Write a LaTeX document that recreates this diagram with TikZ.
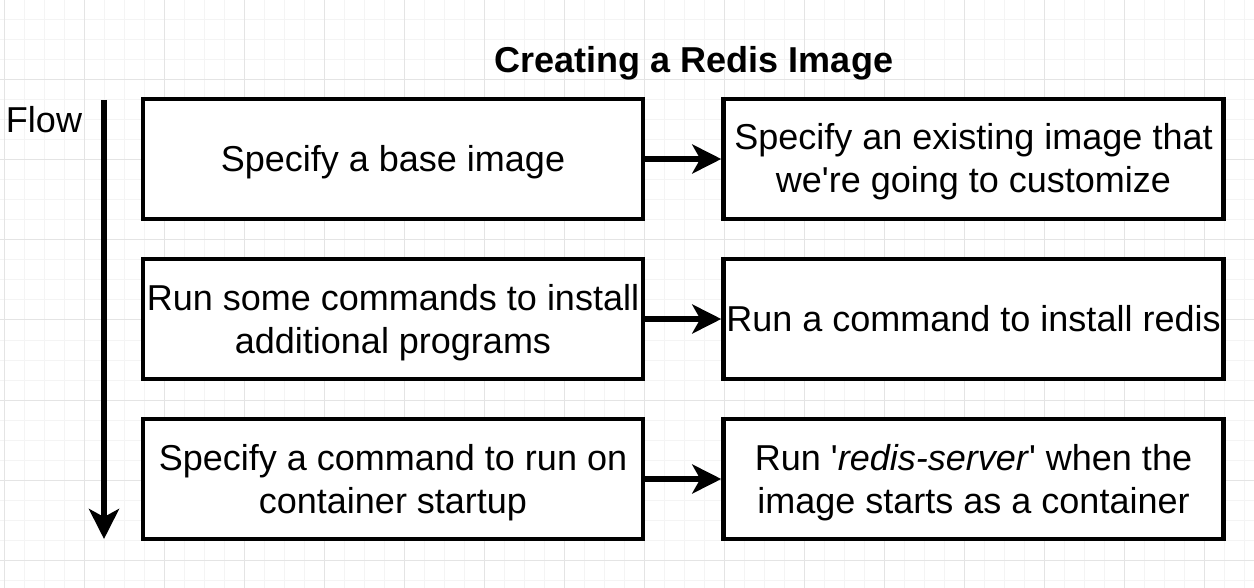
\documentclass[tikz,border=0pt]{standalone}
\usepackage{fontspec}
\setmainfont{Liberation Sans}[Ligatures=TeXOff]
\usetikzlibrary{arrows.meta}
\definecolor{gridminor}{RGB}{244,244,244}
\definecolor{gridmajor}{RGB}{228,228,228}
\newcommand\lnstrut{\rule[-9pt]{0pt}{43pt}}
\begin{document}
\begin{tikzpicture}[x=1pt,y=-1pt,
  stepbox/.style={draw=black,line width=4.5pt,fill=white,minimum width=500pt,minimum height=120pt,inner sep=0pt,align=center,font=\fontsize{36}{43}\selectfont},
  flowarrow/.style={line width=6pt,-{Stealth[length=30pt,width=30pt,inset=8pt]}},
  linkarrow/.style={line width=6pt,-{Stealth[length=29pt,width=29pt,inset=8pt]}},
  lbl/.style={inner sep=0pt,font=\fontsize{36}{43}\selectfont}]
\useasboundingbox (0,0) rectangle (1254,588);
\fill[white] (0,0) rectangle (1254,588);
% grid
\foreach \gx in {4,24,...,1254} \draw[gridminor,line width=1pt] (\gx,0) -- (\gx,588);
\foreach \gy in {0,20,...,588} \draw[gridminor,line width=1pt] (0,\gy) -- (1254,\gy);
\foreach \gx in {4,84,...,1254} \draw[gridmajor,line width=1pt] (\gx,0) -- (\gx,588);
\foreach \gy in {0,80,...,588} \draw[gridmajor,line width=1pt] (0,\gy) -- (1254,\gy);
% title and flow label
\node[lbl,font=\fontsize{36}{43}\selectfont\bfseries] (title) at (694,60.5) {\lnstrut Creating a Redis Image};
\node[lbl] (flow) at (44,120.5) {\lnstrut Flow};
% boxes
\node[stepbox] (b1) at (393,159) {\lnstrut Specify a base image};
\node[stepbox] (b2) at (973.5,159) {\lnstrut Specify an existing image that\\\lnstrut we're going to customize};
\node[stepbox] (b3) at (393,319) {\lnstrut Run some commands to install\\\lnstrut additional programs};
\node[stepbox] (b4) at (973.5,319) {\lnstrut Run a command to install redis};
\node[stepbox] (b5) at (393,479) {\lnstrut Specify a command to run on\\\lnstrut container startup};
\node[stepbox] (b6) at (973.5,479) {\lnstrut Run '\textit{redis-server}' when the\\\lnstrut image starts as a container};
% connectors
\draw[linkarrow] (b1.east) -- (b2.west);
\draw[linkarrow] (b3.east) -- (b4.west);
\draw[linkarrow] (b5.east) -- (b6.west);
\coordinate (fs) at (104,100);
\coordinate (fe) at (104,539);
\draw[flowarrow] (fs) -- (fe);
\end{tikzpicture}
\end{document}
